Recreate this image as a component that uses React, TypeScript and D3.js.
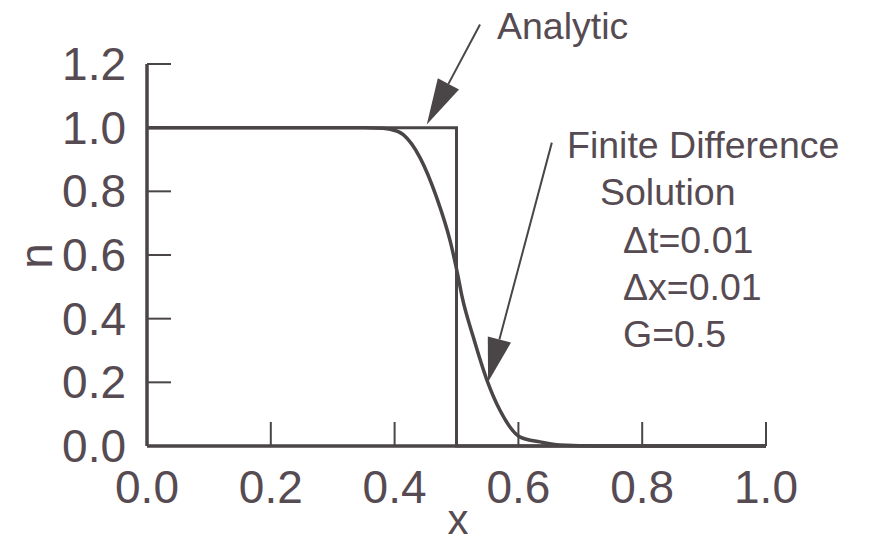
import React from "react";
import * as d3 from "d3";

const xTicks = [0, 0.2, 0.4, 0.6, 0.8, 1.0];
const yTicks = [0, 0.2, 0.4, 0.6, 0.8, 1.0, 1.2];

const analyticX = [0, 0.5, 0.5, 1.0];
const analyticY = [1, 1, 0, 0];

const fdX = [0, 0.35, 0.38, 0.393, 0.414, 0.441, 0.468, 0.49, 0.502, 0.509, 0.527, 0.549, 0.57, 0.603, 0.635, 0.667, 0.73, 1.0];
const fdY = [1, 1, 0.998, 0.995, 0.978, 0.906, 0.78, 0.642, 0.538, 0.469, 0.343, 0.208, 0.113, 0.028, 0.013, 0.003, 0, 0];

const W = 869;
const H = 543;
const INK = "#4a4547";
const TEXT = "#564b52";
const FONT = "'Liberation Sans', Arial, Helvetica, sans-serif";

function Arrow({ x1, y1, x2, y2, len, half }: { x1: number; y1: number; x2: number; y2: number; len: number; half: number }) {
  const dx = x2 - x1;
  const dy = y2 - y1;
  const d = Math.hypot(dx, dy);
  const ux = dx / d;
  const uy = dy / d;
  const bx = x2 - ux * len;
  const by = y2 - uy * len;
  const px = -uy;
  const py = ux;
  const pts = `${x2},${y2} ${bx + px * half},${by + py * half} ${bx - px * half},${by - py * half}`;
  return (
    <g>
      <line x1={x1} y1={y1} x2={bx} y2={by} stroke={INK} strokeWidth={2} />
      <polygon points={pts} fill={INK} />
    </g>
  );
}

export default function App() {
  const x = d3.scaleLinear().domain([0, 1]).range([147, 766]);
  const y = d3.scaleLinear().domain([0, 1.2]).range([446, 64]);

  const line = d3
    .line<[number, number]>()
    .x((d) => x(d[0]))
    .y((d) => y(d[1]));
  const smooth = d3
    .line<[number, number]>()
    .x((d) => x(d[0]))
    .y((d) => y(d[1]))
    .curve(d3.curveMonotoneX);

  const analytic = analyticX.map((v, i) => [v, analyticY[i]] as [number, number]);
  const fd = fdX.map((v, i) => [v, fdY[i]] as [number, number]);

  const tickLen = 24;

  return (
    <svg
      width={W}
      height={H}
      viewBox={`0 0 ${W} ${H}`}
      style={{ position: "absolute", left: 0, top: 0, background: "#fff" }}
      fontFamily={FONT}
    >
      <rect x={0} y={0} width={W} height={H} fill="#fff" />
      {/* curves */}
      <path d={line(analytic) || ""} fill="none" stroke={INK} strokeWidth={3} />
      <path d={smooth(fd) || ""} fill="none" stroke={INK} strokeWidth={3.5} />

      {/* axes */}
      <line x1={x(0)} y1={y(0)} x2={x(0)} y2={y(1.2)} stroke={INK} strokeWidth={3.5} />
      <line x1={x(0)} y1={y(0)} x2={x(1)} y2={y(0)} stroke={INK} strokeWidth={3.5} />
      {yTicks.map((t) => (
        <g key={"y" + t}>
          {t > 0 && <line x1={x(0)} y1={y(t)} x2={x(0) + tickLen} y2={y(t)} stroke={INK} strokeWidth={2} />}
          <text x={126} y={y(t) + 16} textAnchor="end" fontSize={46} fill={TEXT}>
            {t.toFixed(1)}
          </text>
        </g>
      ))}
      {xTicks.map((t) => (
        <g key={"x" + t}>
          {t > 0 && <line x1={x(t)} y1={y(0)} x2={x(t)} y2={y(0) - tickLen} stroke={INK} strokeWidth={2} />}
          <text x={x(t)} y={503} textAnchor="middle" fontSize={46} fill={TEXT}>
            {t.toFixed(1)}
          </text>
        </g>
      ))}

      {/* axis titles */}
      <text x={458} y={534} textAnchor="middle" fontSize={42} fill={TEXT}>
        x
      </text>
      <text transform="translate(52,256) rotate(-90)" textAnchor="middle" fontSize={46} fill={TEXT}>
        n
      </text>

      {/* annotations */}
      <Arrow x1={x(0.538)} y1={y(1.324)} x2={x(0.452)} y2={y(1.01)} len={46} half={12} />
      <Arrow x1={x(0.654)} y1={y(0.953)} x2={x(0.551)} y2={y(0.201)} len={44} half={12} />

      <g fontSize={37.5} fill={TEXT}>
        <text x={497} y={39}>Analytic</text>
        <text x={567} y={158}>Finite Difference</text>
        <text x={600} y={205}>Solution</text>
        <text x={623} y={253}>Δt=0.01</text>
        <text x={623} y={300}>Δx=0.01</text>
        <text x={623} y={347}>G=0.5</text>
      </g>
    </svg>
  );
}
